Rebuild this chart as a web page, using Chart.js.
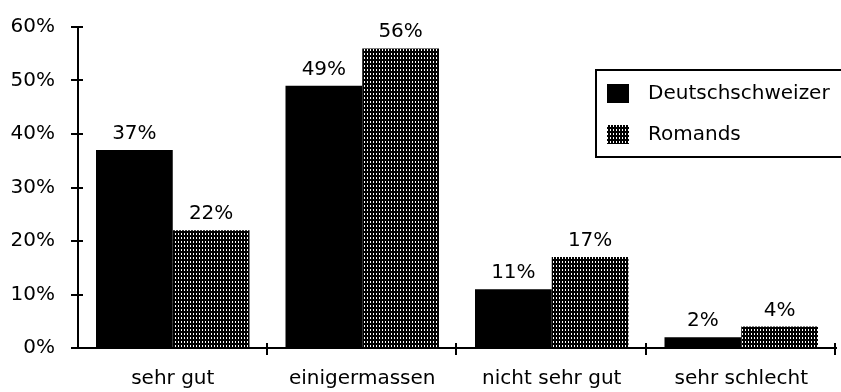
<!DOCTYPE html>
<html>
<head>
<meta charset="utf-8">
<script src="https://cdn.jsdelivr.net/npm/chart.js@4"></script>
<style>
  html, body { margin: 0; padding: 0; background: #fff; }
  #wrap { width: 841px; height: 392px; }
</style>
</head>
<body>
<div id="wrap"><canvas id="chart" width="841" height="392"></canvas></div>
<script>
const categories = ["sehr gut", "einigermassen", "nicht sehr gut", "sehr schlecht"];
const deutschschweizer = [37, 49, 11, 2];
const romands = [22, 56, 17, 4];
const seriesNames = ["Deutschschweizer", "Romands"];
const yMax = 60;
const yStep = 10;

const FONT = "'DejaVu Sans', sans-serif";

// dotted fill like the old print raster
function dotPattern() {
  const c = document.createElement("canvas");
  c.width = 3; c.height = 4;
  const g = c.getContext("2d");
  g.fillStyle = "#000";
  g.fillRect(0, 0, 3, 4);
  g.fillStyle = "#fff";
  g.fillRect(1, 1, 1, 2);
  return g.createPattern(c, "repeat");
}
const pattern = dotPattern();

const crossTicks = {
  id: "crossTicks",
  afterDraw(chart) {
    const { ctx, scales: { x, y } } = chart;
    ctx.save();
    ctx.strokeStyle = "#000";
    ctx.lineWidth = 2;
    for (let v = 0; v <= yMax; v += yStep) {
      const py = Math.round(y.getPixelForValue(v));
      ctx.beginPath();
      ctx.moveTo(x.left - 7, py);
      ctx.lineTo(x.left + 5, py);
      ctx.stroke();
    }
    const step = (x.right - x.left) / categories.length;
    for (let i = 1; i <= categories.length; i++) {
      const px = Math.round(x.left + i * step) - 1;
      ctx.beginPath();
      ctx.moveTo(px, y.bottom - 5);
      ctx.lineTo(px, y.bottom + 7);
      ctx.stroke();
    }
    ctx.restore();
  }
};

const valueLabels = {
  id: "valueLabels",
  afterDatasetsDraw(chart) {
    const { ctx } = chart;
    ctx.save();
    ctx.fillStyle = "#000";
    ctx.font = "20px " + FONT;
    ctx.textAlign = "center";
    ctx.textBaseline = "alphabetic";
    chart.data.datasets.forEach((ds, i) => {
      chart.getDatasetMeta(i).data.forEach((bar, j) => {
        ctx.fillText(ds.data[j] + "%", bar.x, bar.y - 11);
      });
    });
    ctx.restore();
  }
};

const boxLegend = {
  id: "boxLegend",
  afterDraw(chart) {
    const { ctx } = chart;
    const left = 596, top = 70, bottom = 157;
    ctx.save();
    ctx.fillStyle = "#fff";
    ctx.fillRect(left, top, 860 - left, bottom - top);
    ctx.strokeStyle = "#000";
    ctx.lineWidth = 2;
    ctx.strokeRect(left, top, 860 - left, bottom - top);
    ctx.font = "20px " + FONT;
    ctx.textBaseline = "middle";
    const rows = [94, 135];
    chart.data.datasets.forEach((ds, i) => {
      ctx.fillStyle = ds.backgroundColor;
      ctx.fillRect(607, rows[i] - 10, 22, 19);
      ctx.fillStyle = "#000";
      ctx.fillText(ds.label, 648, rows[i]);
    });
    ctx.restore();
  }
};

new Chart(document.getElementById("chart"), {
  type: "bar",
  data: {
    labels: categories,
    datasets: [
      { label: seriesNames[0], data: deutschschweizer, backgroundColor: "#000" },
      { label: seriesNames[1], data: romands, backgroundColor: pattern }
    ]
  },
  options: {
    responsive: false,
    animation: false,
    layout: { padding: { left: 0, top: 20, right: 5, bottom: 0 } },
    datasets: { bar: { categoryPercentage: 0.81, barPercentage: 1.0, borderWidth: 0 } },
    plugins: { legend: { display: false }, tooltip: { enabled: false } },
    scales: {
      x: {
        grid: { display: false },
        border: { display: true, color: "#000", width: 2 },
        ticks: { color: "#000", font: { family: FONT, size: 20 }, padding: 11, maxRotation: 0 },
        afterFit(s) { s.height = 44; }
      },
      y: {
        min: 0,
        max: yMax,
        grid: { display: false },
        border: { display: true, color: "#000", width: 2 },
        ticks: {
          stepSize: yStep,
          color: "#000",
          font: { family: FONT, size: 20 },
          padding: 15,
          callback: v => v + "%"
        },
        afterFit(s) { s.width = 78; }
      }
    }
  },
  plugins: [crossTicks, valueLabels, boxLegend]
});
</script>
</body>
</html>
